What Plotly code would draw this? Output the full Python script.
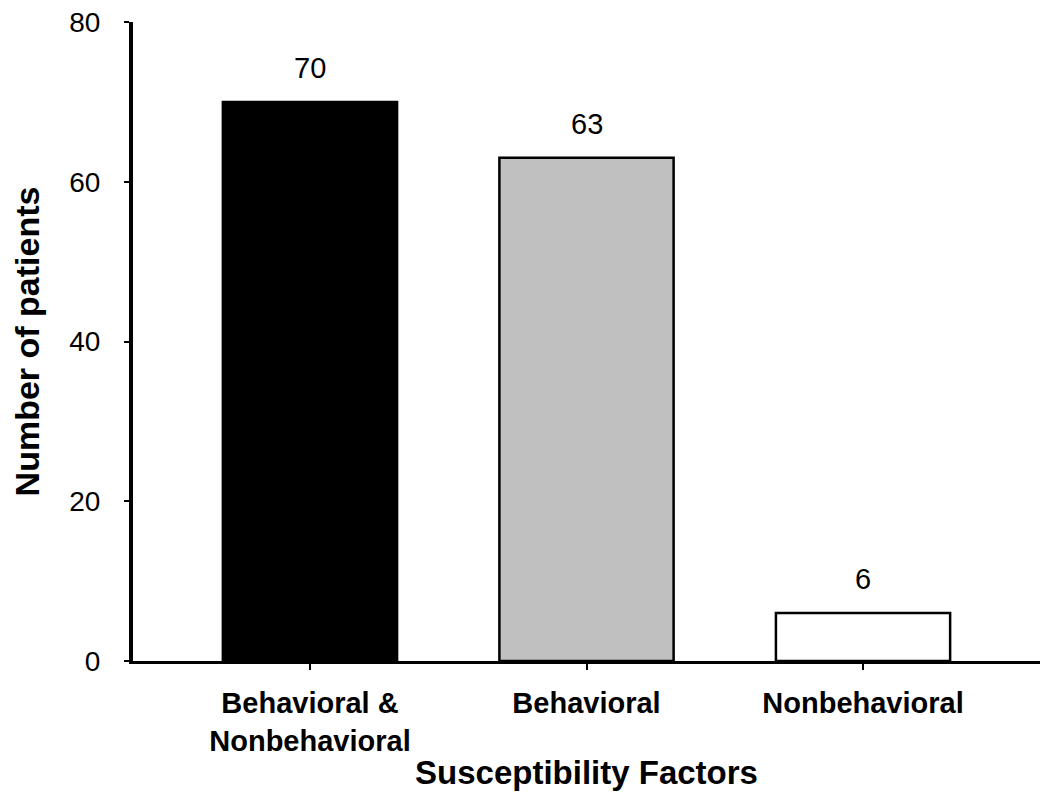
import plotly.graph_objects as go

categories = ["Behavioral &<br>Nonbehavioral", "Behavioral", "Nonbehavioral"]
patients = [70, 63, 6]
bar_colors = ["#000000", "#c0c0c0", "#ffffff"]
y_ticks = [0, 20, 40, 60, 80]

FONT = "Liberation Sans, Arial, sans-serif"

fig = go.Figure()
fig.add_trace(go.Bar(
    x=[0, 1, 2],
    y=patients,
    width=0.63,
    marker=dict(color=bar_colors, line=dict(color="#000000", width=2.5)),
    hoverinfo="skip",
))

for i, v in enumerate(patients):
    fig.add_annotation(
        x=i, y=v, text=str(v), showarrow=False,
        yanchor="bottom", yshift=16,
        font=dict(family=FONT, size=29, color="#000000"),
    )

# page body has an 8px margin, so the figure is sized/offset to compensate
fig.update_layout(
    width=1042, height=800, autosize=False,
    margin=dict(l=125, r=10, t=14, b=147),
    paper_bgcolor="#ffffff", plot_bgcolor="#ffffff",
    showlegend=False,
    font=dict(family=FONT, color="#000000"),
)

fig.update_xaxes(
    automargin=False,
    range=[-0.64, 2.64],
    tickmode="array",
    tickvals=[0, 1, 2],
    ticktext=["<b>" + c.replace("<br>", "</b><br><b>") + "</b>" for c in categories],
    tickfont=dict(family=FONT, size=29, color="#000000"),
    ticks="outside", ticklen=6, tickwidth=2, tickcolor="#000000",
    showline=True, linecolor="#000000", linewidth=3,
    showgrid=False, zeroline=False,
    ticklabelstandoff=8,
    ticklabeloverflow="allow",
    title=dict(text="<b>Susceptibility Factors</b>",
               font=dict(family=FONT, size=33, color="#000000"), standoff=6),
)

fig.update_yaxes(
    automargin=False,
    range=[0, 80],
    tickmode="array",
    tickvals=y_ticks,
    tickfont=dict(family=FONT, size=28, color="#000000"),
    ticks="outside", ticklen=5, tickwidth=2, tickcolor="#000000",
    showline=True, linecolor="#000000", linewidth=4,
    showgrid=False, zeroline=False,
    ticklabelstandoff=18,
    ticklabeloverflow="allow",
    title=dict(text="<b>Number of patients</b>",
               font=dict(family=FONT, size=34, color="#000000"), standoff=20),
)

fig.write_html("out.html")
